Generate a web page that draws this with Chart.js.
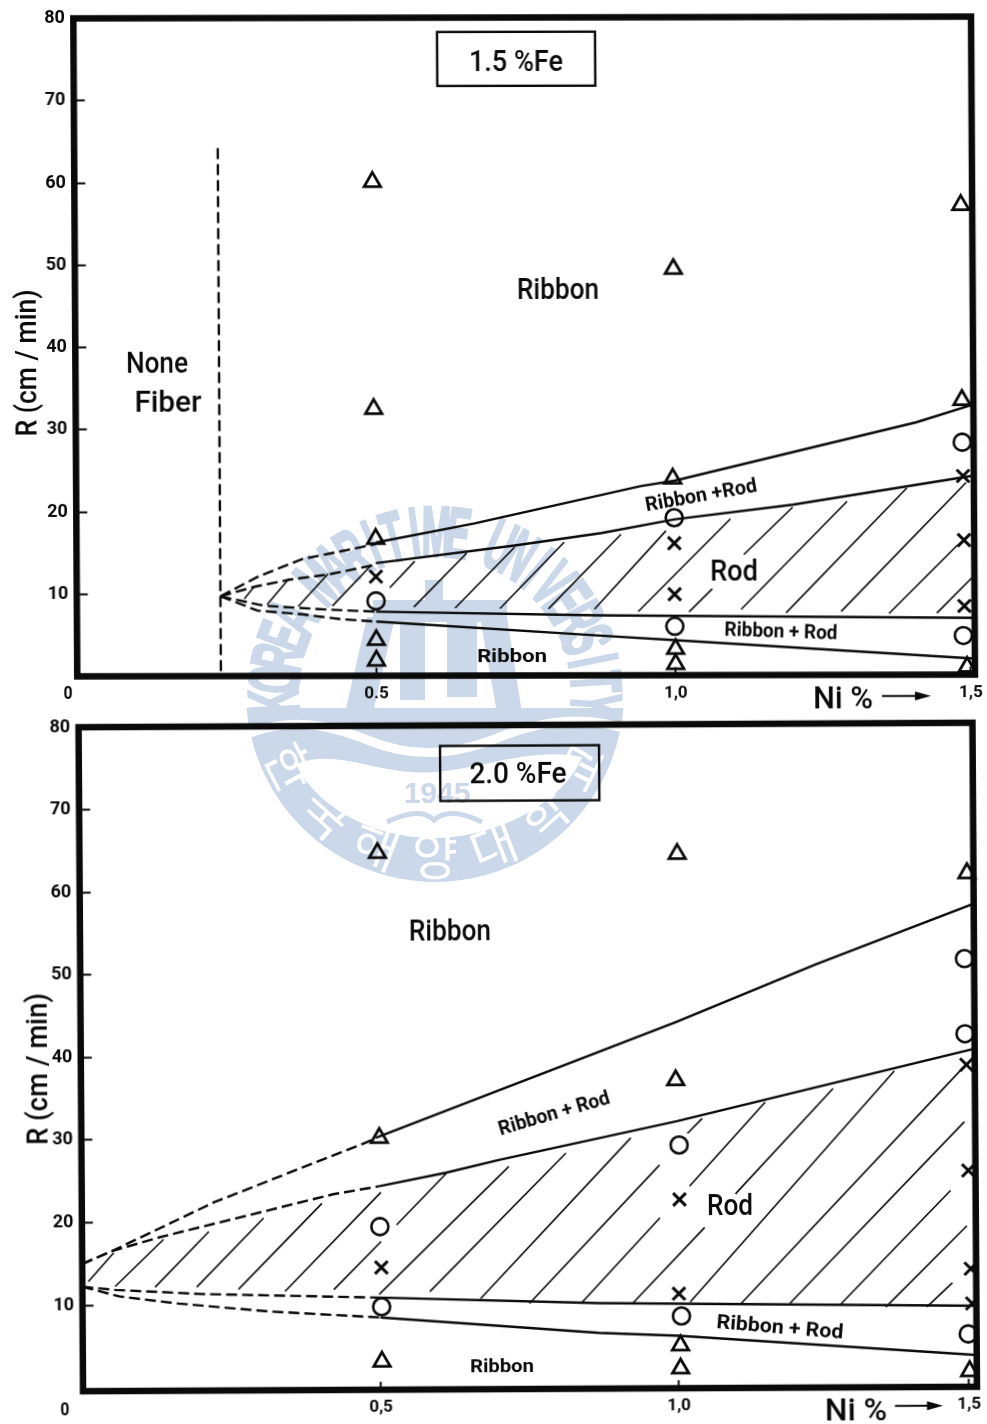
<!DOCTYPE html>
<html>
<head>
<meta charset="utf-8">
<script src="https://cdn.jsdelivr.net/npm/chart.js@4/dist/chart.umd.min.js"></script>
<style>
  html, body { margin:0; padding:0; background:#fff; }
  #page { position:relative; width:987px; height:1424px; overflow:hidden; }
  #page svg, #page canvas { position:absolute; left:0; }
</style>
</head>
<body>
<div id="page">
  <svg id="wm" width="987" height="1424" style="top:0"></svg>
  <canvas id="top" width="987" height="712" style="top:0"></canvas>
  <canvas id="bottom" width="987" height="712" style="top:712px"></canvas>
</div>
<script>
const yTicks = [10,20,30,40,50,60,70,80];
const xTicksTop = [0.5,1.0,1.493];
const xTicksBottom = [0.5,1.0,1.487];
const xLabelsTop = ['0.5','1,0','1,5'];
const xLabelsBottom = ['0,5','1,0','1,5'];

// 1.5 % Fe panel, [Ni %, R]
const topTriangles = [[0.498,60.05],[0.498,32.45],[0.5,16.65],[0.5,4.35],[0.5,1.85],[1.0,49.4],[0.997,23.9],[1.0,3.2],[1.0,1.35],[1.481,57.1],[1.481,33.4],[1.487,0.95]];
const topCircles = [[0.5,9.1],[0.999,19.15],[0.999,5.95],[1.481,28.25],[1.481,4.75]];
const topCrosses = [[0.5,12.05],[0.999,16.05],[0.999,9.85],[1.482,24.15],[1.483,16.35],[1.483,8.35]];
const topSolid = [
  [[0.5,16.2],[0.665,18.5],[0.943,23.0],[1.0,23.65],[1.405,30.7],[1.5,32.85]],
  [[0.5,13.7],[0.732,15.8],[0.877,17.3],[1.0,18.95],[1.197,20.7],[1.5,24.2]],
  [[0.5,7.8],[0.87,7.3],[1.5,6.9]],
  [[0.5,6.6],[0.87,4.85],[1.0,4.25],[1.5,1.95]],
];
const topDashed = [
  [[0.24,9.7],[0.305,12.15],[0.377,14.2],[0.5,16.0]],
  [[0.24,9.7],[0.297,10.85],[0.355,11.7],[0.422,12.35],[0.5,13.5]],
  [[0.24,9.7],[0.312,8.55],[0.42,8.05],[0.5,7.8]],
  [[0.24,9.7],[0.302,7.95],[0.375,7.5],[0.44,6.9],[0.5,6.6]],
  [[0.24,64.2],[0.24,0.3]],
];
const topHatch = [
  [0.28,9.4,0.297,10.9],[0.318,8.7,0.355,11.85],[0.37,8.45,0.42,12.4],[0.427,8.5,0.493,13.5],
  [0.523,10.7,0.565,13.9],[0.563,8.35,0.652,14.9],[0.632,8.2,0.732,15.6],[0.707,8.15,0.815,16.2],
  [0.788,8.1,0.91,17.15],[0.865,8.05,0.985,17.55],[0.938,7.75,1.093,19],[1.023,7.7,1.062,10.5],
  [1.115,14.65,1.197,20.4],[1.11,8.0,1.288,21.1],[1.185,7.55,1.388,22.7],[1.277,7.7,1.487,23.35],
  [1.357,7.45,1.472,15.75],[1.437,7.5,1.497,11.85],
];

// 2.0 % Fe panel
const bottomTriangles = [[0.5,64.6],[0.5,30.1],[0.502,3.0],[1.003,64.3],[0.998,36.9],[1.003,4.8],[1.003,2.0],[1.489,61.8],[1.488,1.5]];
const bottomCircles = [[0.5,19.35],[0.502,9.65],[1.003,29.05],[1.005,8.35],[1.484,51.45],[1.484,42.35],[1.486,6.0]];
const bottomCrosses = [[0.502,14.4],[1.003,22.45],[1.001,11.05],[1.486,38.6],[1.488,25.8],[1.491,13.9],[1.493,9.7]];
const bottomSolid = [
  [[0.497,30.2],[1.0,43.95],[1.233,50.8],[1.5,58.1]],
  [[0.5,24.25],[0.612,25.85],[0.7,27.35],[1.0,31.95],[1.5,40.55]],
  [[0.5,10.75],[0.867,9.95],[1.5,9.4]],
  [[0.5,8.35],[0.867,6.35],[1.0,5.95],[1.5,3.45]],
];
const bottomDashed = [
  [[0,15.0],[0.05,16.55],[0.222,22.4],[0.478,29.55],[0.497,30.2]],
  [[0,15.0],[0.05,16.55],[0.133,18.25],[0.305,21.25],[0.422,23.3],[0.5,24.25]],
  [[0,12.25],[0.055,11.85],[0.2,11.3],[0.5,10.75]],
  [[0,12.25],[0.062,11.05],[0.162,10.15],[0.312,9.15],[0.5,8.35]],
];
const bottomHatch = [
  [0.01,12.85,0.053,16.35],[0.055,12.25,0.137,17.95],[0.122,12.15,0.213,18.85],[0.192,12.15,0.305,20.45],
  [0.262,11.85,0.403,22.2],[0.34,11.55,0.502,23.5],[0.422,11.75,0.502,17.55],[0.528,19.55,0.612,25.75],
  [0.498,11.15,0.717,26.55],[0.583,11.45,0.813,28.15],[0.668,10.55,0.922,29.95],[0.75,9.95,0.97,26.65],
  [1.017,30.45,1.042,32.25],[0.837,9.95,0.97,20.25],[1.02,24.05,1.148,34.2],[0.923,9.9,1.045,19.05],
  [1.097,23.1,1.262,35.8],[1.02,10.05,1.365,37.9],[1.105,9.8,1.485,38.6],[1.187,9.8,1.482,31.7],
  [1.272,9.65,1.458,23.4],[1.348,9.3,1.485,19.1],[1.417,9.3,1.46,12.2],
];

const FONT = 'Roboto';
const INK = '#0a0a0a';

// page pixel positions: text, x, y, size, width, angle (deg), bold
const topTexts = [
  ['1.5 %Fe',516,61,30,94,0,0],
  ['Ribbon',558,290,29,82,0,0],
  ['None',157,363,30,62,0,0],
  ['Fiber',168,402,30,67,0,0],
  ['Ribbon +Rod',701,495,20,113,-10,1],
  ['Rod',734,571,30,48,0,0],
  ['Ribbon + Rod',781,631,20,113,2,1],
  ['Ribbon',512,656,19,70,0,1],
  ['Ni %',843,698,32,60,0,0],
  ['R (cm / min)',27,363,30,147,-90,0],
  ['0',68,693,18,9,0,1],
];
const bottomTexts = [
  ['2.0 %Fe',518,773,30,97,0,0],
  ['Ribbon',450,931,29,82,0,0],
  ['Ribbon + Rod',554,1113,20,115,-16,1],
  ['Rod',730,1205,30,46,0,0],
  ['Ribbon + Rod',780,1327,20,127,5,1],
  ['Ribbon',502,1366,19,64,0,1],
  ['Ni %',856,1410,32,62,0,0],
  ['R (cm / min)',37,1069,30,152,-90,0],
  ['0',65,1410,18,9,0,1],
];

const pts = a => a.map(([x,y]) => ({x,y}));
const segs = a => a.flatMap(([x1,y1,x2,y2]) => [{x:x1,y:y1},{x:x2,y:y2},{x:x2,y:null}]);

const panelText = {
  id: 'panelText',
  afterDatasetsDraw(chart, args, opts) {
    let {ctx, chartArea:a} = chart;
    let {offset, skewX, skewY, cx, cy} = opts;
    let unskew = (x,y) => [x - skewX*(y-cy), y - offset + skewY*(x-cx)];
    ctx.save();
    // thick frame
    ctx.strokeStyle = INK;
    ctx.lineWidth = 6.5;
    ctx.lineJoin = 'miter';
    ctx.strokeRect(a.left, a.top, a.right-a.left, a.bottom-a.top);
    // condition box
    let [bx,by] = unskew(opts.box[0], opts.box[1]);
    ctx.lineWidth = 2.4;
    ctx.strokeRect(bx, by, opts.box[2], opts.box[3]);
    // Ni % arrow
    let [ax1,ay] = unskew(opts.arrow[0], opts.arrow[2]);
    let ax2 = ax1 + opts.arrow[1]-opts.arrow[0];
    ctx.lineWidth = 2;
    ctx.beginPath(); ctx.moveTo(ax1,ay); ctx.lineTo(ax2-12,ay); ctx.stroke();
    ctx.fillStyle = INK;
    ctx.beginPath(); ctx.moveTo(ax2,ay); ctx.lineTo(ax2-16,ay-4.5); ctx.lineTo(ax2-16,ay+4.5); ctx.fill();
    ctx.textAlign = 'center';
    ctx.textBaseline = 'middle';
    opts.texts.forEach(([text,px,py,size,width,angle,bold]) => {
      let [x,y] = unskew(px,py);
      ctx.save();
      ctx.font = `${bold ? '700' : '500'} ${size}px ${FONT}`;
      let sx = width / ctx.measureText(text).width;
      ctx.translate(x,y);
      ctx.rotate(angle*Math.PI/180);
      ctx.scale(sx,1);
      ctx.fillText(text,0,size*0.07);
      ctx.restore();
    });
    ctx.restore();
  },
};

function buildPanel(id, o) {
  let lineSet = (data, extra) => Object.assign({
    data, showLine:true, spanGaps:false, pointRadius:0, borderColor:INK, borderWidth:2.4, clip:false,
  }, extra);
  let markSet = (data, pointStyle, pointRadius, pointBorderWidth) => ({
    data:pts(data), showLine:false, pointStyle, pointRadius, pointBorderColor:INK,
    pointBackgroundColor:'rgba(0,0,0,0)', pointBorderWidth, clip:false,
  });
  let datasets = [
    lineSet(segs(o.hatch), {borderWidth:1.6}),
    ...o.dashed.map(d => lineSet(pts(d), {borderDash:[11,5]})),
    ...o.solid.map(d => lineSet(pts(d))),
    markSet(o.triangles, 'triangle', 9.5, 2.8),
    markSet(o.circles, 'circle', 8.5, 2.6),
    markSet(o.crosses, 'crossRot', 9, 3),
  ];
  let canvas = document.getElementById(id);
  canvas.style.transform = `matrix(1,${-o.skewY},${o.skewX},1,0,0)`;
  canvas.style.transformOrigin = `${o.cx}px ${o.cy-o.offset}px`;
  let noPad = s => { s.paddingTop = s.paddingBottom = s.paddingLeft = s.paddingRight = 0; };
  return new Chart(canvas, {
    type:'scatter',
    data:{datasets},
    plugins:[panelText],
    options:{
      responsive:false,
      animation:false,
      layout:{padding:{left:0, top:o.area.top, right:987-o.area.right, bottom:0}},
      plugins:{
        legend:{display:false},
        tooltip:{enabled:false},
        panelText:{offset:o.offset, skewX:o.skewX, skewY:o.skewY, cx:o.cx, cy:o.cy, texts:o.texts, box:o.box, arrow:o.arrow},
      },
      scales:{
        x:{
          type:'linear', min:0, max:1.5,
          afterFit: s => { s.height = 712-o.area.bottom; noPad(s); },
          afterBuildTicks: s => { s.ticks = o.xTicks.map(value => ({value})); },
          border:{display:false},
          grid:{drawOnChartArea:false, tickLength:-8, tickWidth:2, tickColor:INK},
          ticks:{
            autoSkip:false, maxRotation:0, padding:16, color:INK,
            font:{family:FONT, size:17, weight:'700'},
            callback:(v,i) => o.xLabels[i],
          },
        },
        y:{
          type:'linear', min:o.yMin, max:80,
          afterFit: s => { s.width = o.area.left; noPad(s); },
          afterBuildTicks: s => { s.ticks = yTicks.map(value => ({value})); },
          border:{display:false},
          grid:{drawOnChartArea:false, tickLength:-11, tickWidth:2, tickColor:INK},
          ticks:{padding:19.5, color:INK, font:{family:FONT, size:18, weight:'700'}},
        },
      },
    },
  });
}

buildPanel('top', {
  offset:0, skewX:0.006, skewY:0.002, cx:524, cy:346, yMin:0,
  area:{left:75.3, right:973, top:17.5, bottom:675.5},
  xTicks:xTicksTop, xLabels:xLabelsTop, hatch:topHatch, dashed:topDashed, solid:topSolid,
  triangles:topTriangles, circles:topCircles, crosses:topCrosses,
  texts:topTexts, box:[437,32,158,54], arrow:[882,931,696],
});
buildPanel('bottom', {
  offset:712, skewX:0.0068, skewY:0.005, cx:529, cy:1057, yMin:-0.4,
  area:{left:80.8, right:979, top:13, bottom:677},
  xTicks:xTicksBottom, xLabels:xLabelsBottom, hatch:bottomHatch, dashed:bottomDashed, solid:bottomSolid,
  triangles:bottomTriangles, circles:bottomCircles, crosses:bottomCrosses,
  texts:bottomTexts, box:[440,746,159,55], arrow:[895,943,1406],
});

// faint university seal behind the charts
const BLUE = '#cbd8e9';
const CX = 435, CY = 693;
const ringText = 'KOREA MARITIME UNIVERSITY';
const sealText = '한국해양대학교';
const legs = [
  '425,580 443,580 443,600 507,600 507,622 425,622',
  '373,600 443,600 443,622 373,622',
  '367,617 395,617 373,713 345,713',
  '400,620 425,620 425,700 400,700',
  '447,620 477,620 477,697 447,697',
  '480,617 507,617 522,713 497,713',
];
let svg = '';
svg += `<clipPath id="seg"><rect x="230" y="708" width="420" height="190"/></clipPath>`;
svg += `<circle cx="${CX}" cy="${CY}" r="189" fill="${BLUE}" clip-path="url(#seg)"/>`;
svg += `<path d="M240 737 C290 715,330 725,370 741 S450 757,500 737 S590 717,630 730" fill="none" stroke="#fff" stroke-width="9"/>`;
svg += `<path d="M296 764 C340 747,380 777,435 772 S530 747,582 757 C565 800,500 838,435 838 C370 838,315 805,296 764 Z" fill="#fff"/>`;
legs.forEach(p => { svg += `<polygon points="${p}" fill="${BLUE}"/>`; });
[...ringText].forEach((c,i) => {
  if (c === ' ') return;
  let a = -93 + i*(187/(ringText.length-1));
  svg += `<text transform="rotate(${a} ${CX} ${CY}) translate(${CX} ${CY-137}) scale(0.5,1)" text-anchor="middle" font-family="Liberation Sans" font-weight="bold" font-size="71" fill="${BLUE}" stroke="${BLUE}" stroke-width="3">${c}</text>`;
});
[...sealText].forEach((c,i) => {
  let a = 63 - i*21;
  svg += `<text transform="rotate(${a} ${CX} ${CY}) translate(${CX} ${CY+165+17})" text-anchor="middle" font-family="Noto Sans CJK KR" font-size="50" fill="#fff">${c}</text>`;
});
svg += `<text x="437" y="803" text-anchor="middle" font-family="Liberation Sans" font-weight="bold" font-size="30" fill="${BLUE}">1945</text>`;
svg += `<path d="M387 822 Q420 806 434 820 Q450 806 482 822" fill="none" stroke="${BLUE}" stroke-width="5"/>`;
document.getElementById('wm').innerHTML = svg;
</script>
</body>
</html>
